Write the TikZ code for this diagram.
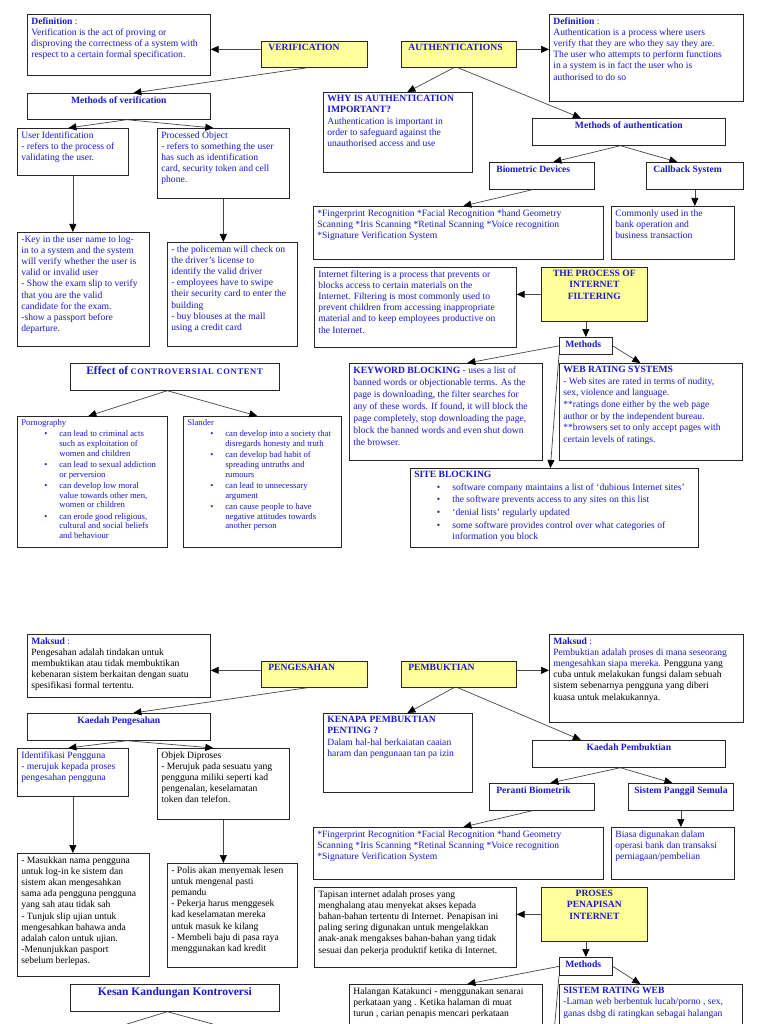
\documentclass[tikz,border=0pt]{standalone}
\usepackage{fontspec}
\setmainfont{Liberation Serif}
\usetikzlibrary{arrows.meta}
\definecolor{tb}{RGB}{25,25,205}
\definecolor{yel}{RGB}{255,255,153}
\definecolor{ln}{RGB}{70,70,70}
\newcommand\bx[7][]{\node[bx,#1] (#2) at (#3,#4) {\parbox[c][\dimexpr #6pt-#4pt-6pt\relax][t]{\dimexpr #5pt-#3pt-8pt\relax}{\raggedright #7}};}
\newcommand\bul[3]{\par\vspace{1.4pt}{\leftskip=#1\relax\noindent\llap{\textbullet\hspace{#2}}#3\par}}
\tikzset{
  bx/.style={draw=black!85, line width=0.7pt, anchor=north west, inner xsep=4pt, inner ysep=3pt,
    font=\fontsize{9.6}{11.2}\selectfont, text=tb, fill=white},
  yb/.style={fill=yel},
  blk/.style={text=black},
  sm/.style={font=\fontsize{8.7}{9.8}\selectfont},
  arr/.style={draw=ln, line width=0.7pt, -{Triangle[length=8pt,width=7pt,color=black]}}
}
\begin{document}
\begin{tikzpicture}[x=1pt,y=-1pt]
\fill[white] (0,0) rectangle (768,1024);
\useasboundingbox (0,0) rectangle (768,1024);

% ===== TOP LEFT =====
\bx{def}{27}{14}{210}{75}{\textbf{Definition} :\\Verification is the act of proving or\\disproving the correctness of a system with\\respect to a certain formal specification.}
\bx[yb]{ver}{261}{41}{367}{67}{\hspace*{3pt}\textbf{VERIFICATION}}
\bx{methv}{27}{93}{210}{119}{\centering\textbf{Methods of verification}}
\bx{uid}{17}{128}{128}{175}{User Identification\\- refers to the process of\\validating the user.}
\bx{po}{157}{128}{289}{198}{Processed Object\\- refers to something the user\\has such as identification\\card, security token and cell\\phone.}
\bx{keyin}{17}{232}{149}{346}{-Key in the user name to log-\\in to a system and the system\\will verify whether the user is\\valid or invalid user\\- Show the exam slip to verify\\that you are the valid\\candidate for the exam.\\-show a passport before\\departure.}
\bx{police}{167}{242}{297}{346}{- the policeman will check on\\the driver’s license to\\identify the valid driver\\- employees have to swipe\\their security card to enter the\\building\\- buy blouses at the mall\\using a credit card}
\bx{eff}{70}{363}{279}{390}{\centering\textbf{{\fontsize{11.5}{13}\selectfont Effect of} {\fontsize{8.5}{13}\selectfont\addfontfeature{LetterSpace=8}CONTROVERSIAL CONTENT}}}
\bx[sm]{porn}{17}{416}{167}{547}{Pornography
\bul{38pt}{12pt}{can lead to criminal acts\\such as exploitation of\\women and children}
\bul{38pt}{12pt}{can lead to sexual addiction\\or perversion}
\bul{38pt}{12pt}{can develop low moral\\value towards other men,\\women or children}
\bul{38pt}{12pt}{can erode good religious,\\cultural and social beliefs\\and behaviour}}
\bx[sm]{slan}{183}{416}{341}{547}{Slander
\bul{38pt}{12pt}{can develop into a society that\\disregards honesty and truth}
\bul{38pt}{12pt}{can develop bad habit of\\spreading untruths and\\rumours}
\bul{38pt}{12pt}{can lead to unnecessary\\argument}
\bul{38pt}{12pt}{can cause people to have\\negative attitudes towards\\another person}}

% ===== TOP RIGHT =====
\bx[yb]{auth}{401}{41}{516}{67}{\hspace*{3pt}\textbf{AUTHENTICATIONS}}
\bx{adef}{549}{14}{743}{101}{\textbf{Definition} :\\Authentication is a process where users\\verify that they are who they say they are.\\The user who attempts to perform functions\\in a system is in fact the user who is\\authorised to do so}
\bx{why}{323}{92}{472}{172}{\textbf{WHY IS AUTHENTICATION\\IMPORTANT?}\\Authentication is important in\\order to  safeguard against the\\unauthorised access and use}
\bx{metha}{532}{118}{725}{145}{\centering\textbf{Methods of authentication}}
\bx{bio}{489}{162}{594}{189}{\hspace*{3pt}\textbf{Biometric Devices}}
\bx{cb}{646}{162}{743}{189}{\hspace*{3pt}\textbf{Callback System}}
\bx{fp}{313}{206}{603}{259}{*Fingerprint Recognition *Facial Recognition *hand Geometry\\{}Scanning *Iris Scanning *Retinal Scanning *Voice recognition\\{}*Signature Verification System}
\bx{com}{611}{206}{734}{259}{ Commonly used in the\\bank operation and\\business transaction}
\bx{filt}{314}{267}{516}{347}{Internet filtering is a process that prevents or\\blocks access to certain materials on the\\Internet. Filtering is most commonly used to\\prevent children from accessing inappropriate\\material and to keep employees productive on\\the Internet.}
\bx[yb]{proc}{541}{267}{647}{321}{\centering\textbf{THE PROCESS OF\\INTERNET\\FILTERING}}
\bx{meth}{559}{337}{612}{354}{\hspace*{2pt}\textbf{Methods}}
\bx[font=\fontsize{9.6}{12}\selectfont]{kw}{349}{363}{542}{460}{\textbf{KEYWORD BLOCKING} - uses a list of\\banned words or objectionable terms. As the\\page is downloading, the filter searches for\\any of these words. If found, it will block the\\page completely, stop downloading the page,\\block the banned  words and even shut down\\the browser.}
\bx[font=\fontsize{9.6}{11.6}\selectfont]{web}{559}{363}{742}{460}{\textbf{WEB RATING SYSTEMS}\\- Web sites are rated in terms of nudity,\\sex, violence and language.\\{}**ratings done either by the web page\\author or by the independent bureau.\\{}**browsers set to only accept pages with\\certain levels of ratings.}
\bx{site}{410}{468}{698}{547}{\textbf{SITE BLOCKING}
\bul{38pt}{12pt}{software company maintains a list of ‘dubious Internet sites’}
\bul{38pt}{12pt}{the software prevents access to any sites on this list}
\bul{38pt}{12pt}{‘denial lists’ regularly updated}
\bul{38pt}{12pt}{some software provides control over what categories of\\information you block}}

% ===== BOTTOM LEFT =====
\bx[blk]{maks}{27}{634}{210}{697}{\textcolor{tb}{\textbf{Maksud} :}\\Pengesahan adalah tindakan untuk\\membuktikan atau tidak membuktikan\\kebenaran sistem berkaitan dengan suatu\\spesifikasi formal tertentu.}
\bx[yb]{peng}{261}{661}{367}{687}{\hspace*{3pt}\textbf{PENGESAHAN}}
\bx{kaedp}{27}{713}{210}{740}{\centering\textbf{Kaedah Pengesahan}}
\bx{ident}{17}{748}{128}{796}{Identifikasi Pengguna\\- merujuk kepada proses\\pengesahan pengguna}
\bx[blk]{objek}{157}{748}{289}{819}{Objek Diproses\\- Merujuk pada sesuatu yang\\pengguna miliki seperti kad\\pengenalan, keselamatan\\token dan telefon.}
\bx[blk]{masuk}{17}{853}{149}{976}{- Masukkan nama pengguna\\untuk log-in ke sistem dan\\sistem akan mengesahkan\\sama ada pengguna pengguna\\yang sah atau tidak sah\\- Tunjuk slip ujian untuk\\mengesahkan bahawa anda\\adalah calon untuk ujian.\\-Menunjukkan pasport\\sebelum berlepas.}
\bx[blk]{polis}{167}{863}{297}{967}{- Polis akan menyemak lesen\\untuk mengenal pasti\\pemandu\\- Pekerja harus menggesek\\kad keselamatan mereka\\untuk masuk ke kilang\\- Membeli baju di pasa raya\\menggunakan kad kredit}
\bx{kesan}{70}{984}{279}{1011}{\centering\textbf{\fontsize{11.5}{13}\selectfont Kesan Kandungan Kontroversi}}

% ===== BOTTOM RIGHT =====
\bx[yb]{pemb}{401}{661}{516}{687}{\hspace*{3pt}\textbf{PEMBUKTIAN}}
\bx{maks2}{549}{634}{743}{722}{\textbf{Maksud} :\\Pembuktian adalah proses di mana seseorang\\mengesahkan siapa mereka. \textcolor{black}{Pengguna yang\\cuba untuk melakukan fungsi dalam sebuah\\sistem sebenarnya pengguna yang diberi\\kuasa untuk melakukannya.}}
\bx{kenapa}{323}{713}{472}{792}{\textbf{KENAPA PEMBUKTIAN\\PENTING ?}\\Dalam hal-hal berkaiatan caaian\\haram dan pengunaan tan pa izin}
\bx{kaedb}{532}{740}{725}{767}{\centering\textbf{Kaedah Pembuktian}}
\bx{peranti}{489}{783}{594}{810}{\hspace*{3pt}\textbf{Peranti Biometrik}}
\bx{sistem}{628}{783}{733}{810}{\hspace*{2pt}\textbf{Sistem Panggil Semula}}
\bx{fp2}{313}{827}{603}{879}{*Fingerprint Recognition *Facial Recognition *hand Geometry\\{}Scanning *Iris Scanning *Retinal Scanning *Voice recognition\\{}*Signature Verification System}
\bx{biasa}{611}{827}{734}{879}{ Biasa digunakan dalam\\operasi bank dan transaksi\\perniagaan/pembelian}
\bx[blk]{tapis}{314}{887}{516}{967}{ Tapisan internet adalah proses yang\\menghalang atau menyekat akses kepada\\bahan-bahan tertentu di Internet. Penapisan ini\\paling sering digunakan untuk mengelakkan\\anak-anak mengakses bahan-bahan yang tidak\\sesuai dan pekerja produktif ketika di Internet.}
\bx[yb]{proses}{541}{887}{647}{941}{\centering\textbf{PROSES\\PENAPISAN\\INTERNET}}
\bx{meth2}{559}{957}{612}{975}{\hspace*{2pt}\textbf{Methods}}
\bx[blk]{halang}{349}{984}{542}{1060}{ Halangan Katakunci - menggunakan senarai\\perkataan yang . Ketika halaman di muat\\turun , carian penapis mencari perkataan}
\bx{sisrat}{559}{984}{742}{1060}{\textbf{SISTEM RATING WEB}\\-Laman web berbentuk lucah/porno , sex,\\ganas dsbg di ratingkan sebagai halangan}

% ===== CONNECTORS TOP =====
\draw[arr] ([yshift=5pt]ver.west) -- ([yshift=-4.5pt]def.east);
\draw[arr] ([xshift=-7pt]ver.south) -- ([xshift=14.5pt]methv.north);
\draw[arr] ([xshift=8pt]methv.south) -- ([xshift=-4.5pt]uid.north);
\draw[arr] ([xshift=8pt]methv.south) -- ([xshift=-10pt]po.north);
\draw[arr] (uid.south) -- (uid.south |- keyin.north);
\draw[arr] (po.south) -- (po.south |- police.north);
\draw[arr] ([xshift=-7.5pt]eff.south) -- ([xshift=-4pt]porn.north);
\draw[arr] ([xshift=-7.5pt]eff.south) -- ([xshift=-5pt]slan.north);
\draw[arr] ([yshift=5pt]auth.east) -- ([yshift=8.5pt]adef.west);
\draw[arr] ([xshift=-5pt]auth.south) -- ([xshift=9.5pt]why.north);
\draw[arr] ([xshift=-1pt]auth.south) -- ([xshift=-48pt]metha.north);
\draw[arr] ([xshift=-8.5pt]metha.south) -- ([xshift=11.5pt]bio.north);
\draw[arr] ([xshift=-8.5pt]metha.south) -- ([xshift=-17.5pt]cb.north);
\draw[arr] ([xshift=-9.5pt]bio.south) -- ([xshift=5pt]fp.north);
\draw[arr] (cb.south) -- (cb.south |- com.north);
\draw[arr] (proc.west) -- (proc.west -| filt.east);
\draw[arr] (meth.north |- proc.south) -- (meth.north);
\draw[arr] (meth.west) -- ([xshift=21.5pt]kw.north);
\draw[arr] (meth.east) -- ([xshift=-10.5pt]web.north);
\draw[arr] (meth.south west) -- ([xshift=-4pt]site.north);

% ===== CONNECTORS BOTTOM =====
\draw[arr] ([yshift=4pt]peng.west) -- ([yshift=-4.5pt]maks.east);
\draw[arr] ([xshift=-7pt]peng.south) -- ([xshift=14.5pt]kaedp.north);
\draw[arr] ([xshift=8pt]kaedp.south) -- ([xshift=-4.5pt]ident.north);
\draw[arr] ([xshift=8pt]kaedp.south) -- ([xshift=-10pt]objek.north);
\draw[arr] (ident.south) -- (ident.south |- masuk.north);
\draw[arr] (objek.south) -- (objek.south |- polis.north);
\coordinate (kesL) at (88,1036);
\coordinate (kesR) at (257,1036);
\draw[arr] ([xshift=-7.5pt]kesan.south) -- (kesL);
\draw[arr] ([xshift=-7.5pt]kesan.south) -- (kesR);
\draw[arr] ([yshift=4pt]pemb.east) -- ([yshift=8pt]maks2.west);
\draw[arr] ([xshift=-5pt]pemb.south) -- ([xshift=9.5pt]kenapa.north);
\draw[arr] ([xshift=-1pt]pemb.south) -- ([xshift=-48pt]kaedb.north);
\draw[arr] ([xshift=-8.5pt]kaedb.south) -- ([xshift=8.5pt]peranti.north);
\draw[arr] ([xshift=-8.5pt]kaedb.south) -- ([xshift=-8.5pt]sistem.north);
\draw[arr] ([xshift=-9.5pt]peranti.south) -- ([xshift=5pt]fp2.north);
\draw[arr] (sistem.south) -- (sistem.south |- biasa.north);
\draw[arr] (proses.west) -- (proses.west -| tapis.east);
\draw[arr] (meth2.north |- proses.south) -- (meth2.north);
\draw[arr] (meth2.west) -- ([xshift=21.5pt]halang.north);
\draw[arr] (meth2.east) -- ([xshift=-10.5pt]sisrat.north);
\coordinate (siteB) at (549,1090);
\draw[arr] (meth2.south west) -- (siteB);
\end{tikzpicture}
\end{document}
